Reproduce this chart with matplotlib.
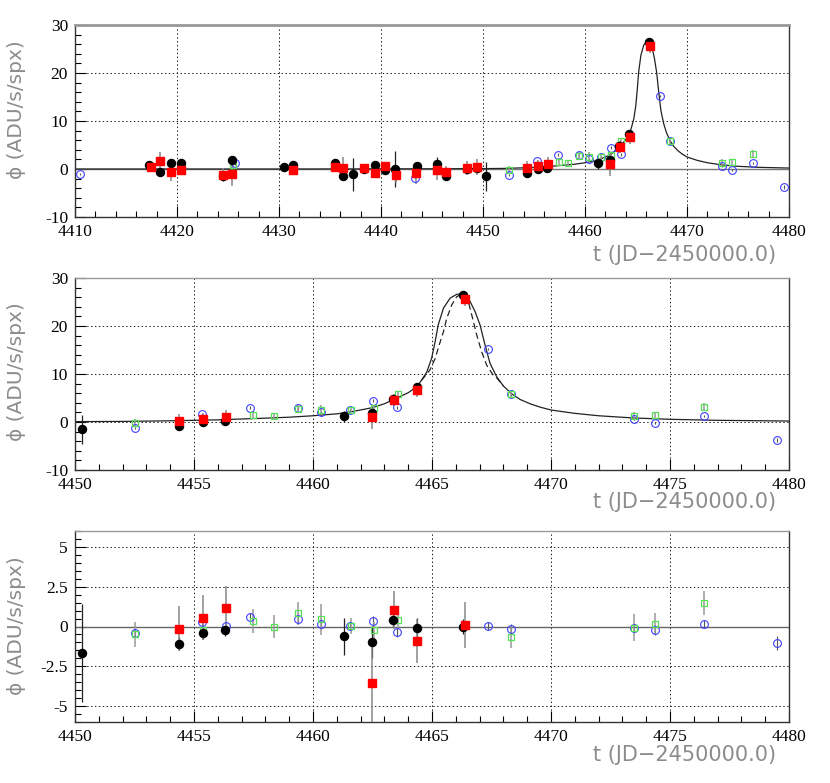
import numpy as np
import matplotlib
matplotlib.use("Agg")
import matplotlib.pyplot as plt
from matplotlib.ticker import MultipleLocator, FixedLocator, FixedFormatter

plt.rcParams['font.family'] = ['Liberation Serif', 'DejaVu Serif']
plt.rcParams['axes.unicode_minus'] = False

# ---------------- data ----------------
# black filled circles
black_t = [4417.29, 4418.37, 4419.44, 4420.36, 4424.48, 4425.39, 4430.49, 4431.41,
           4435.46, 4436.27, 4437.25, 4438.37, 4439.44, 4440.36, 4441.37, 4443.50,
           4445.49, 4446.37, 4448.40, 4449.38,
           4450.31, 4454.36, 4455.39, 4456.32, 4461.29, 4462.46, 4463.37, 4464.36, 4466.29]
black_f = [0.76, -0.69, 1.32, 1.18, -1.53, 1.88, 0.35, 0.76,
           1.18, -1.53, -1.11, 0.0, 0.9, -0.28, 0.0, 0.56,
           1.11, -1.53, 0.1, 0.3,
           -1.54, -0.84, 0.0, 0.2, 1.19, 1.8, 4.75, 7.2, 26.4]
black_e = [0.8, 0.5, 0.5, 0.5, 1.0, 0.6, 0.8, 0.5,
           0.5, 0.6, 3.4, 0.5, 0.5, 0.5, 3.8, 0.5,
           1.3, 0.6, 0.5, 0.5,
           3.1, 0.4, 0.4, 0.35, 1.15, 1.0, 0.4, 0.6, 0.5]
black_res = [-1.67, -1.09, -0.38, -0.25, -0.61, -0.98, 0.4, -0.08, 0.0]

# red filled squares
red_t = [4417.48, 4418.33, 4419.44, 4420.36, 4424.51, 4425.42, 4431.41, 4435.49,
         4436.27, 4438.37, 4439.41, 4440.42, 4441.50, 4443.43, 4445.52, 4446.37,
         4448.40, 4449.38,
         4454.36, 4455.39, 4456.34, 4462.49, 4463.40, 4464.37, 4466.39]
red_f = [0.35, 1.74, -0.63, -0.21, -1.18, -1.04, -0.21, 0.49,
         0.14, 0.14, -0.76, 0.63, -1.32, -0.9, -0.21, -0.63,
         0.21, 0.42,
         0.2, 0.56, 1.1, 0.98, 4.6, 6.7, 25.7]
red_e = [0.9, 1.9, 1.8, 1.0, 1.3, 2.4, 0.9, 1.0,
         2.4, 1.0, 1.0, 0.8, 1.5, 2.2, 2.0, 1.2,
         1.4, 1.7,
         1.4, 1.4, 1.35, 2.5, 1.2, 1.4, 1.45]
red_res = [-0.13, 0.56, 1.19, -3.56, 1.03, -0.9, 0.08]

# blue open circles
blue_t = [4410.49, 4425.65, 4443.37,
          4452.51, 4455.34, 4456.33, 4457.34, 4459.37, 4460.35, 4461.55, 4462.51,
          4463.53, 4467.35, 4468.32, 4473.47, 4474.38, 4476.43, 4479.51]
blue_f = [-1.04, 1.18, -1.88,
          -1.26, 1.6, 0.56, 3.0, 2.87, 2.03, 2.45, 4.4,
          3.08, 15.24, 5.73, 0.7, -0.21, 1.19, -3.78]
blue_e = [0.3, 0.3, 0.3,
          0.25, 0.25, 0.25, 0.25, 0.3, 0.3, 0.3, 0.3,
          0.3, 0.25, 0.3, 0.25, 0.3, 0.25, 0.45]
blue_res = [-0.4, 0.27, 0.04, 0.6, 0.46, 0.15, 0.06, 0.36,
            -0.33, 0.04, -0.17, -0.08, -0.23, 0.15, -1.03]

# green open squares
green_t = [4425.49,
           4452.53, 4455.39, 4457.46, 4458.36, 4459.37, 4460.35, 4461.58, 4462.56,
           4463.57, 4468.32, 4473.47, 4474.39, 4476.44]
green_f = [0.76,
           -0.14, 0.28, 1.54, 1.19, 2.8, 2.45, 2.5, 2.87,
           5.73, 5.73, 1.26, 1.4, 3.15]
green_e = [0.5,
           0.8, 0.6, 0.75, 0.7, 0.75, 1.0, 0.5, 0.5,
           0.5, 0.7, 0.85, 0.7, 0.75]
green_res = [-0.5, -0.25, 0.33, 0.0, 0.82, 0.44, 0.04, -0.23, 0.4,
             -0.65, -0.08, 0.15, 1.46]

# model curves
model_t = [4410, 4430, 4440, 4445, 4450, 4452, 4454, 4456, 4458, 4459, 4460, 4461,
           4461.55, 4462, 4462.5, 4463, 4463.4, 4463.7, 4464.0, 4464.35, 4464.56,
           4464.78, 4464.98, 4465.13, 4465.26, 4465.48, 4465.76, 4466.04, 4466.25,
           4466.45, 4466.6, 4466.81, 4467.02, 4467.23, 4467.44, 4467.72, 4468.0,
           4468.34, 4468.7, 4469.12, 4469.54, 4470, 4471, 4472, 4473.46, 4475,
           4477, 4480]
model_f = [0.0, 0.0, 0.02, 0.05, 0.08, 0.12, 0.25, 0.45, 0.8, 1.0, 1.3, 1.7,
           2.1, 2.5, 3.0, 3.8, 4.7, 5.4, 6.1, 7.3, 8.7,
           10.4, 13.2, 16.7, 20.2, 23.7, 25.8, 26.6, 26.7,
           26.2, 25.1, 23.0, 20.2, 16.0, 12.2, 9.4, 7.5,
           5.9, 4.7, 3.8, 3.1, 2.5, 1.8, 1.3, 0.84, 0.56,
           0.35, 0.2]
dash_t = [4464.56, 4464.78, 4464.92, 4465.13, 4465.30, 4465.48, 4465.62, 4465.83,
          4466.04, 4466.25, 4466.45, 4466.53, 4466.67, 4466.88, 4467.09, 4467.30,
          4467.58, 4467.72, 4468.0]
dash_f = [8.7, 10.0, 10.9, 13.2, 16.0, 18.8, 21.6, 24.4,
          26.1, 26.7, 26.0, 25.0, 22.3, 18.1, 14.6, 11.8,
          9.7, 9.2, 7.5]

# ---------------- styling ----------------
C_BLACK = 'black'
C_RED = '#ff0000'
C_BLUE = '#4040ff'
C_GREEN = '#55e055'
LABEL_GRAY = '#8c8c8c'
LBL_FONT = ['DejaVu Sans']

W, H = 830, 783
fig = plt.figure(figsize=(W / 100, H / 100), dpi=100)


def ax_rect(top_px, bot_px, left_px=75, right_px=789):
    return [left_px / W, 1 - bot_px / H, (right_px - left_px) / W, (bot_px - top_px) / H]


ax1 = fig.add_axes(ax_rect(25, 217))
ax2 = fig.add_axes(ax_rect(278, 470))
ax3 = fig.add_axes(ax_rect(531, 722))


def style(ax):
    for s in ax.spines.values():
        s.set_color('#333333')
        s.set_linewidth(1.0)
    ax.spines['top'].set_color('#999999')
    ax.tick_params(which='both', direction='in', top=False, right=False,
                   labelsize=12.5, colors='black')
    ax.tick_params(which='major', length=8, width=0.8, pad=5)
    ax.tick_params(which='minor', length=4, width=0.8)
    ax.grid(True, which='major', color='#222222', linestyle=(0, (1.5, 2.5)), linewidth=0.7)
    ax.set_axisbelow(True)


def plot_series(ax, bl, rd, bu, gr):
    # error bars
    ax.errorbar(bu[0], bu[1], yerr=bu[2], fmt='none', ecolor='#555555', elinewidth=0.8, capsize=0, zorder=3)
    ax.errorbar(gr[0], gr[1], yerr=gr[2], fmt='none', ecolor='#999999', elinewidth=1.1, capsize=0, zorder=3)
    ax.errorbar(bl[0], bl[1], yerr=bl[2], fmt='none', ecolor='#222222', elinewidth=0.9, capsize=0, zorder=3)
    ax.errorbar(rd[0], rd[1], yerr=rd[2], fmt='none', ecolor='#888888', elinewidth=1.1, capsize=0, zorder=3)
    ax.plot(bu[0], bu[1], 'o', ms=5.6, mfc='none', mec=C_BLUE, mew=0.8, zorder=4, linestyle='none')
    ax.plot(gr[0], gr[1], 's', ms=5.0, mfc='none', mec=C_GREEN, mew=0.9, zorder=4, linestyle='none')
    ax.plot(bl[0], bl[1], 'o', ms=5.8, mfc=C_BLACK, mec=C_BLACK, zorder=5, linestyle='none')
    ax.plot(rd[0], rd[1], 's', ms=5.4, mfc=C_RED, mec=C_RED, zorder=6, linestyle='none')


bt, bf, be = np.array(black_t), np.array(black_f), np.array(black_e)
rt, rf, re_ = np.array(red_t), np.array(red_f), np.array(red_e)
ut, uf, ue = np.array(blue_t), np.array(blue_f), np.array(blue_e)
gt, gf, ge = np.array(green_t), np.array(green_f), np.array(green_e)

# ---- top panel ----
style(ax1)
ax1.axhline(0, color='#777777', lw=1.0, zorder=2)
ax1.plot(model_t, model_f, color='#222222', lw=0.9, zorder=2.5)
plot_series(ax1, (bt, bf, be), (rt, rf, re_), (ut, uf, ue), (gt, gf, ge))
ax1.set_xlim(4410, 4480)
ax1.set_ylim(-10, 30)
ax1.xaxis.set_major_locator(MultipleLocator(10))
ax1.xaxis.set_minor_locator(MultipleLocator(2))
ax1.yaxis.set_major_locator(MultipleLocator(10))
ax1.yaxis.set_minor_locator(MultipleLocator(2))
ax1.spines['top'].set_linewidth(2.0)

# ---- middle panel ----
style(ax2)
ax2.plot(model_t, model_f, color='#222222', lw=0.9, zorder=2.5)
ax2.plot(dash_t, dash_f, color='#222222', lw=0.9, dashes=(5, 3), zorder=2.5)
plot_series(ax2, (bt, bf, be), (rt, rf, re_), (ut, uf, ue), (gt, gf, ge))
ax2.set_xlim(4450, 4480)
ax2.set_ylim(-10, 30)
ax2.xaxis.set_major_locator(MultipleLocator(5))
ax2.xaxis.set_minor_locator(MultipleLocator(1))
ax2.yaxis.set_major_locator(MultipleLocator(10))
ax2.yaxis.set_minor_locator(MultipleLocator(2))

# ---- bottom panel (residuals) ----
style(ax3)
ax3.axhline(0, color='#666666', lw=1.0, zorder=2)
mb, mr, mu, mg = bt >= 4450, rt >= 4450, ut >= 4450, gt >= 4450
plot_series(ax3,
            (bt[mb], np.array(black_res), be[mb]),
            (rt[mr], np.array(red_res), re_[mr]),
            (ut[mu], np.array(blue_res), ue[mu]),
            (gt[mg], np.array(green_res), ge[mg]))
ax3.set_xlim(4450, 4480)
ax3.set_ylim(-6, 6)
ax3.xaxis.set_major_locator(MultipleLocator(5))
ax3.xaxis.set_minor_locator(MultipleLocator(1))
ax3.yaxis.set_major_locator(FixedLocator([-5, -2.5, 0, 2.5, 5]))
ax3.yaxis.set_major_formatter(FixedFormatter(['-5', '-2.5', '0', '2.5', '5']))
ax3.yaxis.set_minor_locator(MultipleLocator(0.5))

# ---- axis labels (gray, sans) ----
ylab = '\u03d5 (ADU/s/spx)'
xlab = 't (JD\u22122450000.0)'
for yc in (110, 372, 626):
    fig.text(17 / W, 1 - yc / H, ylab, rotation=90, ha='center', va='center',
             fontsize=14.5, color=LABEL_GRAY, family=LBL_FONT)
for yc in (255, 502, 755):
    fig.text(776 / W, 1 - yc / H, xlab, ha='right', va='center',
             fontsize=15, color=LABEL_GRAY, family=LBL_FONT)

fig.savefig('out.png', dpi=100)
